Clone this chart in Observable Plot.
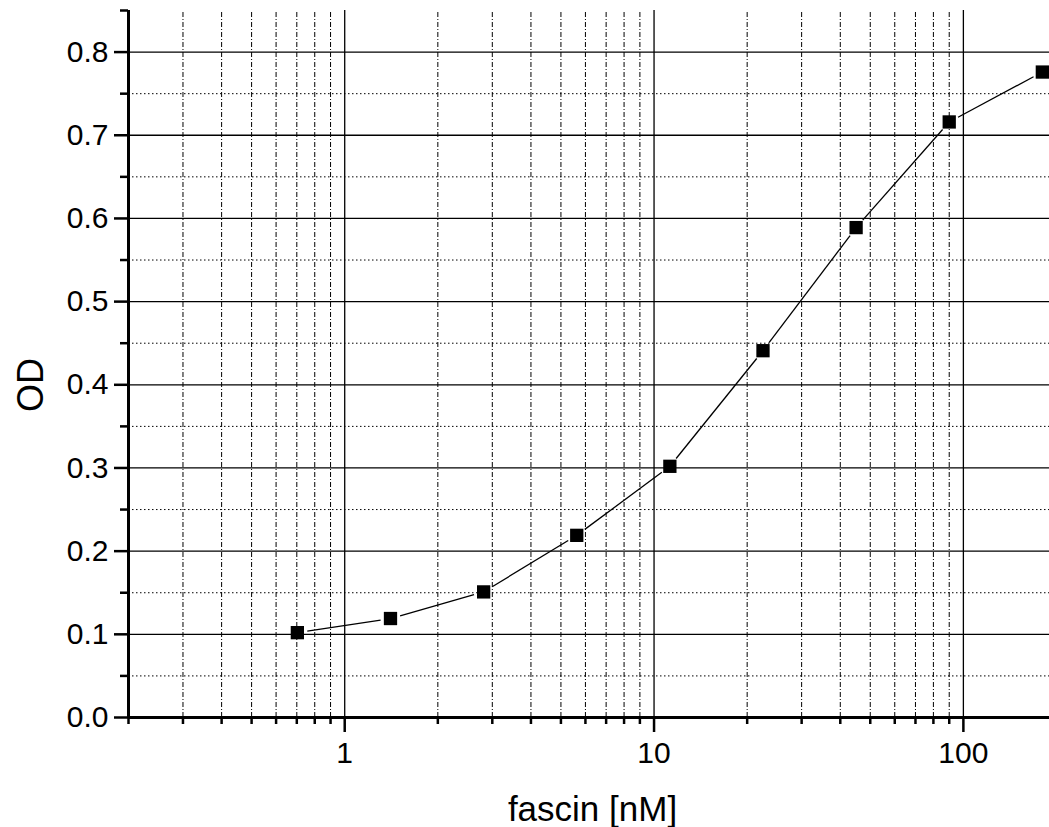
<!DOCTYPE html>
<html>
<head>
<meta charset="utf-8">
<script src="https://cdn.jsdelivr.net/npm/d3@7"></script>
<script src="https://cdn.jsdelivr.net/npm/@observablehq/plot@0.6"></script>
<style>
  html, body { margin: 0; padding: 0; background: white; overflow: hidden; }
</style>
</head>
<body>
<div id="chart"></div>
<script>
// ---- data ----
const conc = [0.703, 1.406, 2.8125, 5.625, 11.25, 22.5, 45, 90, 180];   // fascin [nM]
const od   = [0.102, 0.119, 0.151, 0.219, 0.302, 0.441, 0.589, 0.716, 0.776];

const xMajor = [1, 10, 100];
const xMinor = [0.2, 0.3, 0.4, 0.5, 0.6, 0.7, 0.8, 0.9,
                2, 3, 4, 5, 6, 7, 8, 9,
                20, 30, 40, 50, 60, 70, 80, 90];
const yMajor = [0, 0.1, 0.2, 0.3, 0.4, 0.5, 0.6, 0.7, 0.8];
const yMinor = [0.05, 0.15, 0.25, 0.35, 0.45, 0.55, 0.65, 0.75, 0.85];

const xLabel = "fascin [nM]";
const yLabel = "OD";

// ---- layout ----
const W = 1049, H = 827;
const mL = 128, mT = 10, mB = 110, mR = -7;
const xDomain = [0.2, 200];
const yDomain = [0, 0.85];

const data = conc.map((c, i) => ({c, od: od[i]}));

// segments shortened near markers (gap like the original)
const sx = Plot.scale({x: {type: "log", domain: xDomain, range: [mL, W - mR]}});
const sy = Plot.scale({y: {type: "linear", domain: yDomain, range: [H - mB, mT]}});
const gap = 10;
const segs = [];
for (let i = 0; i < data.length - 1; i++) {
  const x1 = sx.apply(data[i].c), y1 = sy.apply(data[i].od);
  const x2 = sx.apply(data[i + 1].c), y2 = sy.apply(data[i + 1].od);
  const d = Math.hypot(x2 - x1, y2 - y1), ux = (x2 - x1) / d, uy = (y2 - y1) / d;
  segs.push({
    x1: sx.invert(x1 + ux * gap), y1: sy.invert(y1 + uy * gap),
    x2: sx.invert(x2 - ux * gap), y2: sy.invert(y2 - uy * gap)
  });
}

const chart = Plot.plot({
  width: W, height: H,
  marginLeft: mL, marginTop: mT, marginBottom: mB, marginRight: mR,
  style: {fontFamily: "'Liberation Sans', Arial, sans-serif", fontSize: "30px", color: "black", background: "white", overflow: "visible"},
  x: {type: "log", domain: xDomain, axis: null},
  y: {type: "linear", domain: yDomain, axis: null},
  marks: [
    // grid
    Plot.ruleX(xMinor.filter(v => v !== xDomain[0]), {stroke: "#000", strokeWidth: 1, strokeDasharray: "5,2,1,2", y1: yDomain[0], y2: yDomain[1]}),
    Plot.ruleY(yMinor.filter(v => v !== yDomain[1]), {stroke: "#000", strokeWidth: 1, strokeDasharray: "1.5,2.5"}),
    Plot.ruleX(xMajor, {stroke: "#000", strokeWidth: 1.3, y1: yDomain[0], y2: yDomain[1]}),
    Plot.ruleY(yMajor.filter(v => v !== 0), {stroke: "#000", strokeWidth: 1.3}),
    // data
    Plot.link(segs, {x1: "x1", y1: "y1", x2: "x2", y2: "y2", stroke: "#000", strokeWidth: 1.3}),
    Plot.dot(data, {x: "c", y: "od", symbol: "square", r: 7.5, fill: "#000", stroke: "none"}),
    // axes lines
    Plot.ruleX([xDomain[0]], {y1: yDomain[0], y2: yDomain[1], stroke: "#000", strokeWidth: 3}),
    Plot.ruleY([yDomain[0]], {stroke: "#000", strokeWidth: 3}),
    // ticks
    Plot.axisY({ticks: yMajor, tickSize: 14, tickPadding: 6, tickFormat: d3.format(".1f"), fontSize: 30, strokeWidth: 2.5, label: null}),
    Plot.axisY({ticks: yMinor, tickSize: 8, tickFormat: () => "", strokeWidth: 2.5, label: null}),
    Plot.axisX({ticks: xMajor, tickSize: 15, tickPadding: 9, tickFormat: d => String(d), fontSize: 30, strokeWidth: 2.5, label: null}),
    Plot.axisX({ticks: xMinor, tickSize: 7, tickFormat: () => "", strokeWidth: 2.5, label: null}),
    // axis titles
    Plot.text([xLabel], {frameAnchor: "bottom", text: d => d, dy: 103, lineAnchor: "bottom", textAnchor: "middle", fontSize: 35, fill: "#000"}),
    Plot.text([yLabel], {frameAnchor: "left", text: d => d, dx: -86, dy: 21, rotate: -90, lineAnchor: "bottom", textAnchor: "middle", fontSize: 36, fill: "#000"})
  ]
});
document.getElementById("chart").appendChild(chart);
</script>
</body>
</html>
